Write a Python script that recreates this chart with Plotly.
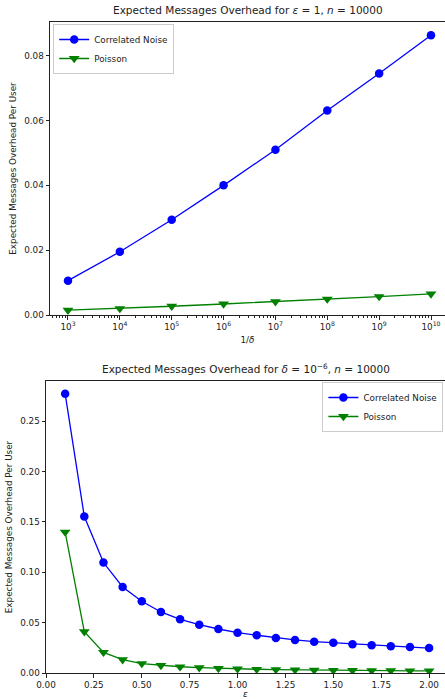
import plotly.graph_objects as go
from plotly.subplots import make_subplots

# Top chart data (x = 1/delta)
inv_delta = [1e3, 1e4, 1e5, 1e6, 1e7, 1e8, 1e9, 1e10]
top_corr = [0.0106, 0.0195, 0.0294, 0.0400, 0.0510, 0.0631, 0.0745, 0.0863]
top_pois = [0.0015, 0.0020, 0.0027, 0.0034, 0.0041, 0.0049, 0.0057, 0.0065]
top_tickvals = [1e3, 1e4, 1e5, 1e6, 1e7, 1e8, 1e9, 1e10]
top_ticktext = ["10<sup>3</sup>", "10<sup>4</sup>", "10<sup>5</sup>", "10<sup>6</sup>",
                "10<sup>7</sup>", "10<sup>8</sup>", "10<sup>9</sup>", "10<sup>10</sup>"]

# Bottom chart data (x = epsilon)
eps = [0.1, 0.2, 0.3, 0.4, 0.5, 0.6, 0.7, 0.8, 0.9, 1.0,
       1.1, 1.2, 1.3, 1.4, 1.5, 1.6, 1.7, 1.8, 1.9, 2.0]
bot_corr = [0.2773, 0.1554, 0.1097, 0.0855, 0.0713, 0.0606, 0.0533, 0.0480, 0.0437, 0.0400,
            0.0375, 0.0348, 0.0328, 0.0311, 0.0301, 0.0285, 0.0275, 0.0265, 0.0258, 0.0248]
bot_pois = [0.1400, 0.0410, 0.0205, 0.0132, 0.0094, 0.0075, 0.0062, 0.0053, 0.0046, 0.0041,
            0.0037, 0.0034, 0.0031, 0.0029, 0.0027, 0.0025, 0.0024, 0.0023, 0.0022, 0.0021]

BLUE = "#0000ff"
GREEN = "#008000"
FONT = "DejaVu Sans"
FS = 8.8      # tick / label / legend font size
TFS = 10.5    # title font size

fig = make_subplots(rows=2, cols=1)

fig.add_trace(go.Scatter(x=inv_delta, y=top_corr, mode="lines+markers", name="Correlated Noise",
                         line=dict(color=BLUE, width=1.3), marker=dict(symbol="circle", size=8.5, color=BLUE),
                         legend="legend"), row=1, col=1)
fig.add_trace(go.Scatter(x=inv_delta, y=top_pois, mode="lines+markers", name="Poisson",
                         line=dict(color=GREEN, width=1.3), marker=dict(symbol="triangle-down", size=9.5, color=GREEN),
                         legend="legend"), row=1, col=1)
fig.add_trace(go.Scatter(x=eps, y=bot_corr, mode="lines+markers", name="Correlated Noise",
                         line=dict(color=BLUE, width=1.3), marker=dict(symbol="circle", size=8.5, color=BLUE),
                         legend="legend2"), row=2, col=1)
fig.add_trace(go.Scatter(x=eps, y=bot_pois, mode="lines+markers", name="Poisson",
                         line=dict(color=GREEN, width=1.3), marker=dict(symbol="triangle-down", size=9.5, color=GREEN),
                         legend="legend2"), row=2, col=1)

W, H = 445, 699
L, R, T, B = 46, 0, 22, 26
ph = H - T - B
pw = W - L - R

def py(pix):
    return (H - B - pix) / ph

axis_common = dict(showline=True, linecolor="#222", linewidth=1, mirror=True, ticks="outside",
                   ticklen=3.5, tickcolor="#222", tickfont=dict(family=FONT, size=FS, color="#222"),
                   showgrid=False, zeroline=False)

fig.update_layout(
    width=W, height=H, margin=dict(l=L, r=R, t=T, b=B),
    plot_bgcolor="white", paper_bgcolor="white",
    font=dict(family=FONT, size=FS, color="#222"),
    xaxis=dict(axis_common, type="log", domain=[4 / pw, 1.0], range=[2.653, 10.27],
               tickvals=top_tickvals, ticktext=top_ticktext,
               minor=dict(ticks="outside", ticklen=2, tickcolor="#222", showgrid=False, dtick="D1"),
               title=dict(text="1/<i>δ</i>", font=dict(family=FONT, size=FS), standoff=5)),
    yaxis=dict(axis_common, domain=[py(315), py(22)], range=[0, 0.0904], dtick=0.02, tickformat=".2f",
               title=dict(text="Expected Messages Overhead Per User", font=dict(family=FONT, size=FS), standoff=6)),
    xaxis2=dict(axis_common, domain=[0, 1.0], range=[0, 2.083], dtick=0.25, tickformat=".2f",
                title=dict(text="<i>ε</i>", font=dict(family=FONT, size=FS), standoff=3)),
    yaxis2=dict(axis_common, domain=[0, py(381)], range=[0, 0.290], dtick=0.05, tickformat=".2f",
                title=dict(text="Expected Messages Overhead Per User", font=dict(family=FONT, size=FS), standoff=6)),
    legend=dict(x=0.018, y=py(24), xanchor="left", yanchor="top", xref="paper", yref="paper",
                bgcolor="rgba(255,255,255,0.8)", bordercolor="#cccccc", borderwidth=1,
                font=dict(family=FONT, size=FS, color="#222"), tracegroupgap=0, itemwidth=30),
    legend2=dict(x=0.996, y=py(382), xanchor="right", yanchor="top", xref="paper", yref="paper",
                 bgcolor="rgba(255,255,255,0.8)", bordercolor="#cccccc", borderwidth=1,
                 font=dict(family=FONT, size=FS, color="#222"), tracegroupgap=0, itemwidth=30),
    showlegend=True,
    annotations=[
        dict(text="Expected Messages Overhead for <i>ε</i> = 1, <i>n</i> = 10000", xref="x domain", yref="y domain",
             x=0.5, y=1, xanchor="center", yanchor="bottom", yshift=4, showarrow=False,
             font=dict(family=FONT, size=TFS, color="#222")),
        dict(text="Expected Messages Overhead for <i>δ</i> = 10<sup>−6</sup>, <i>n</i> = 10000", xref="x2 domain", yref="y2 domain",
             x=0.5, y=1, xanchor="center", yanchor="bottom", yshift=4, showarrow=False,
             font=dict(family=FONT, size=TFS, color="#222")),
    ],
)

fig.write_html("out.html", config={"displayModeBar": False},
               post_script="document.body.style.margin='0px';")
